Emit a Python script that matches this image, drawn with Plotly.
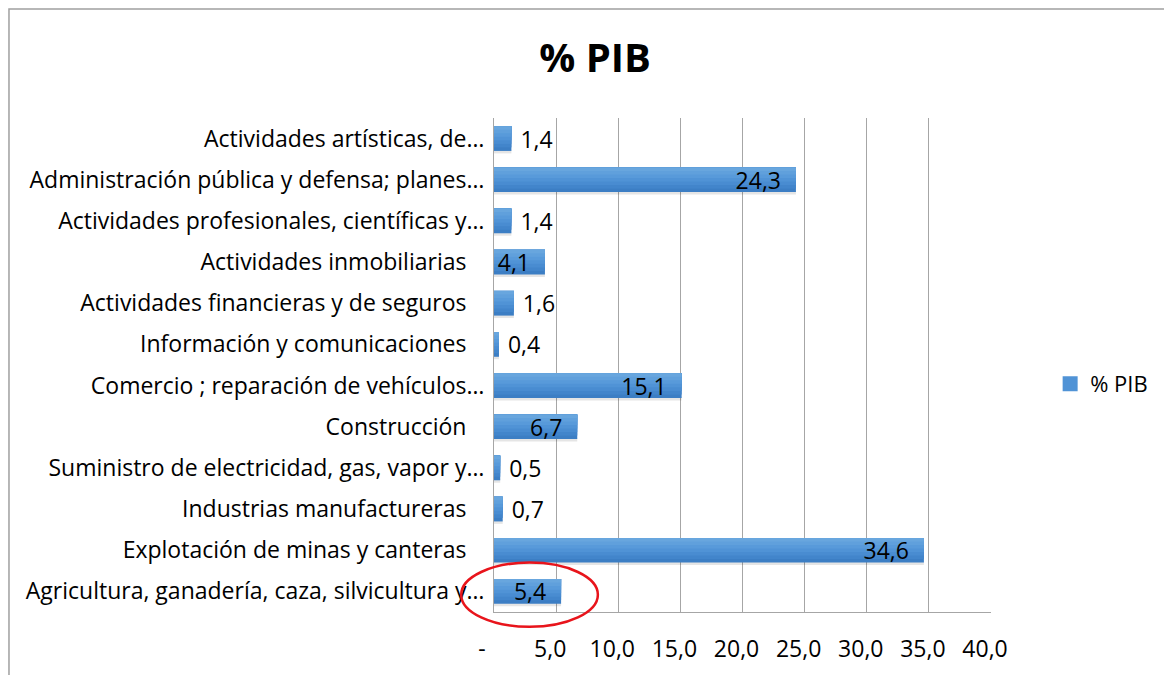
import plotly.graph_objects as go

categories = [
    "Agricultura, ganadería, caza, silvicultura y…",
    "Explotación de minas y canteras",
    "Industrias manufactureras",
    "Suministro de electricidad, gas, vapor y…",
    "Construcción",
    "Comercio ; reparación de vehículos…",
    "Información y comunicaciones",
    "Actividades financieras y de seguros",
    "Actividades inmobiliarias",
    "Actividades profesionales, científicas y…",
    "Administración pública y defensa; planes…",
    "Actividades artísticas, de…",
]
values = [5.4, 34.6, 0.7, 0.5, 6.7, 15.1, 0.4, 1.6, 4.1, 1.4, 24.3, 1.4]
tick_vals = [0, 5, 10, 15, 20, 25, 30, 35, 40]
tick_text = ["-", "5,0", "10,0", "15,0", "20,0", "25,0", "30,0", "35,0", "40,0"]
series_name = "% PIB"

FONT = "Open Sans"
FS = 23
NB = "\u00a0"
inside = [v > 3 for v in values]
positions = ["inside" if f else "outside" for f in inside]
templates = ["%{x:.1f}" + NB * 2 if f else NB + "%{x:.1f}" for f in inside]
# Excel right-aligns the label text and lets the ellipsis overhang
cat_ticktext = [c if c.endswith("…") else c + NB * 3 for c in categories]
# Excel's value-axis labels sit slightly left of their gridlines
x_ticktext = [t + NB * (4 if t == "-" else 2) for t in tick_text]

BAR_W = 0.6
fig = go.Figure()

# soft shadow under each bar
fig.add_trace(go.Bar(
    y=categories, x=values, orientation="h", showlegend=False, hoverinfo="skip",
    width=0.08, offset=-BAR_W / 2 - 0.06,
    marker=dict(color="rgba(0,0,0,0.10)", line=dict(width=0)),
))

# vertical gradient emulated with stacked strips (dark bottom -> light top)
strip_colors = ["#3C7EC4", "#4285CB", "#498CD1", "#5093D6", "#589ADA", "#60A0DC", "#68A6DE"]
n = len(strip_colors)
for i, col in enumerate(strip_colors):
    fig.add_trace(go.Bar(
        y=categories, x=values, orientation="h", showlegend=False, hoverinfo="skip",
        width=BAR_W - i * BAR_W / n, offset=-BAR_W / 2 + i * BAR_W / n,
        marker=dict(color=col, line=dict(width=0)),
    ))

# transparent full bar carrying labels
fig.add_trace(go.Bar(
    y=categories, x=values, orientation="h", name=series_name,
    width=BAR_W, offset=-BAR_W / 2,
    marker=dict(color="rgba(0,0,0,0)", line=dict(width=0)),
    texttemplate=templates, textposition=positions,
    insidetextanchor="end",
    textfont=dict(family=FONT, size=FS, color="black"),
    insidetextfont=dict(family=FONT, size=FS, color="black"),
    outsidetextfont=dict(family=FONT, size=FS, color="black"),
    cliponaxis=False, showlegend=False, hoverinfo="skip",
))
# legend entry (square swatch)
fig.add_trace(go.Scatter(
    y=[None], x=[None], mode="markers", name=series_name,
    marker=dict(symbol="square", size=15, color="#5093D6", line=dict(width=0)),
    showlegend=True,
))

fig.update_layout(
    width=1172, height=675,
    margin=dict(l=486, r=189, t=110, b=71),
    paper_bgcolor="white", plot_bgcolor="white",
    separators=",.",
    barmode="overlay",
    font=dict(family=FONT, size=FS, color="black"),
    title=dict(text="<b>% PIB</b>", x=0.501, xanchor="center", y=0.926, yanchor="middle",
               font=dict(family=FONT, size=40, color="black")),
    showlegend=True,
    legend=dict(x=1.119, xanchor="left", y=0.4615, yanchor="middle",
                font=dict(family=FONT, size=22, color="black"), bgcolor="rgba(0,0,0,0)"),
    uniformtext=dict(minsize=FS, mode="show"),
)
fig.update_xaxes(range=[0, 40], tickvals=tick_vals, ticktext=x_ticktext,
                 showgrid=True, gridcolor="#A6A6A6", gridwidth=1,
                 showline=True, linecolor="#A6A6A6", linewidth=1,
                 zeroline=False, ticks="", ticklabelstandoff=16,
                 tickfont=dict(family=FONT, size=FS, color="black"), fixedrange=True)
fig.update_yaxes(showgrid=False, showline=True, linecolor="#A6A6A6", linewidth=1,
                 ticks="", ticklabelstandoff=4, range=[-0.5, len(categories) - 0.5],
                 tickmode="array", tickvals=categories, ticktext=cat_ticktext,
                 tickfont=dict(family=FONT, size=FS, color="black"), fixedrange=True)

# chart border
fig.add_shape(type="rect", xref="paper", yref="paper",
              x0=-0.9759, x1=1.37, y0=-0.1417, y1=1.2206,
              line=dict(color="#A0A0A0", width=1.5), fillcolor="rgba(0,0,0,0)", layer="below")
# red ellipse highlight
fig.add_shape(type="circle", xref="x domain", yref="y domain",
              x0=-0.066, x1=0.209, y0=-0.03, y1=0.1,
              line=dict(color="#E8141B", width=2.5), fillcolor="rgba(0,0,0,0)", layer="above")

fig.write_html("out.html")
